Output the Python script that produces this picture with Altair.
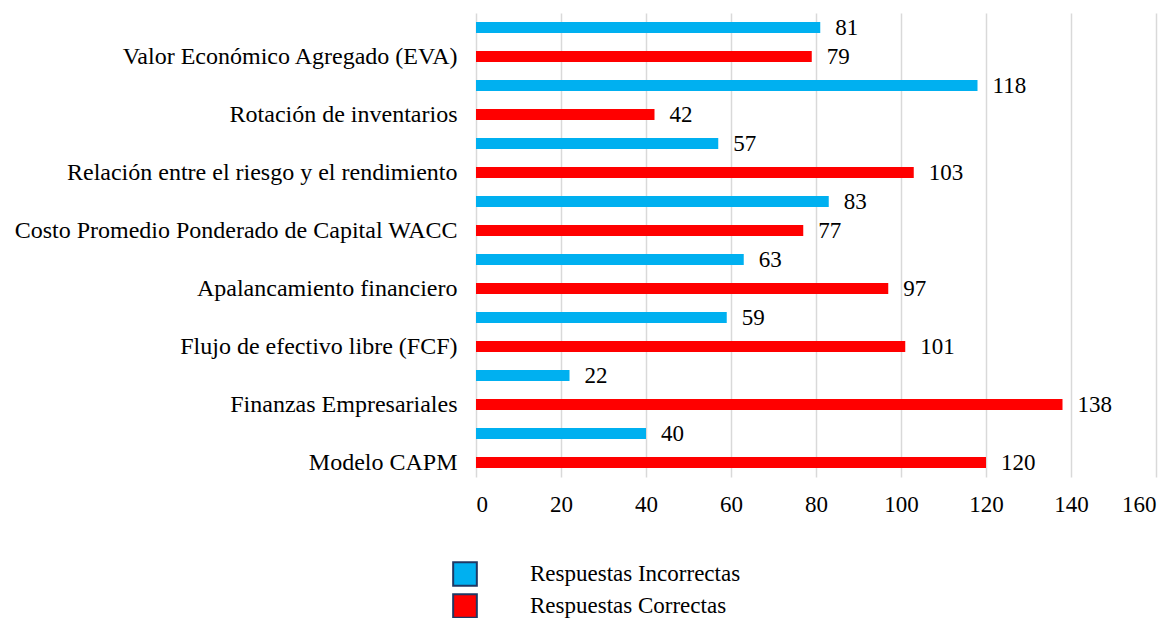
import altair as alt
import pandas as pd

categories = [
    "Valor Económico Agregado (EVA)",
    "Rotación de inventarios",
    "Relación entre el riesgo y el rendimiento",
    "Costo Promedio Ponderado de Capital WACC",
    "Apalancamiento financiero",
    "Flujo de efectivo libre (FCF)",
    "Finanzas Empresariales",
    "Modelo CAPM",
]
incorrectas = [81, 118, 57, 83, 63, 59, 22, 40]
correctas = [79, 42, 103, 77, 97, 101, 138, 120]
series = ["Respuestas Incorrectas", "Respuestas Correctas"]
colors = ["#00B0F0", "#FF0000"]

rows = []
for c, i, k in zip(categories, incorrectas, correctas):
    rows.append({"slot": c + "|I", "cat": c, "serie": series[0], "valor": i})
    rows.append({"slot": c + "|C", "cat": c, "serie": series[1], "valor": k})
df = pd.DataFrame(rows)
order = list(df["slot"])

FONT = "Liberation Serif"

y = alt.Y(
    "slot:N",
    sort=order,
    title=None,
    scale=alt.Scale(paddingInner=0.62, paddingOuter=0.31),
    axis=alt.Axis(
        labelExpr="indexof(datum.label,'|I')>=0 ? '' : replace(datum.label,'|C','')",
        ticks=False,
        domain=False,
        labelFont=FONT,
        labelFontSize=24,
        labelColor="#000000",
        labelPadding=19,
        labelLimit=700,
    ),
)

bars = alt.Chart(df).mark_bar().encode(
    x=alt.X(
        "valor:Q",
        title=None,
        scale=alt.Scale(domain=[0, 160]),
        axis=alt.Axis(
            values=list(range(0, 161, 20)),
            grid=True,
            gridColor="#D9D9D9",
            gridWidth=1.5,
            domain=False,
            ticks=False,
            labelFont=FONT,
            labelFontSize=23,
            labelColor="#000000",
            labelPadding=16,
        ),
    ),
    y=y,
    color=alt.Color(
        "serie:N",
        scale=alt.Scale(domain=series, range=colors),
        legend=alt.Legend(
            title=None,
            orient="none",
            legendX=-24,
            legendY=548,
            symbolType="square",
            symbolSize=560,
            symbolStrokeColor="#1F3864",
            symbolStrokeWidth=2,
            symbolOpacity=1,
            labelFont=FONT,
            labelFontSize=23,
            labelColor="#000000",
            labelOffset=52,
            labelLimit=500,
            rowPadding=0,
        ),
    ),
)

labels = alt.Chart(df).mark_text(
    align="left", baseline="middle", dx=15, font=FONT, fontSize=23, color="#000000"
).encode(
    x="valor:Q",
    y=alt.Y("slot:N", sort=order),
    text="valor:Q",
)

chart = (
    alt.layer(bars, labels)
    .properties(width=680, height=464, background="white")
    .configure_view(stroke=None)
)

chart.save("out.html", embed_options={"renderer": "svg", "actions": False})
